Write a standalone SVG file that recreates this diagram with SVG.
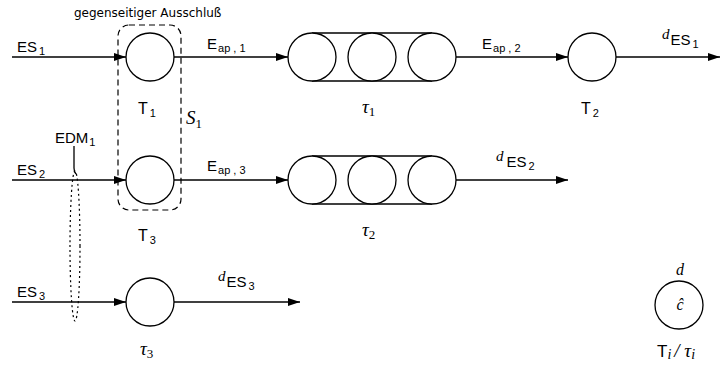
<svg xmlns="http://www.w3.org/2000/svg" width="722" height="370" viewBox="0 0 722 370">
<defs>
<marker id="ah" markerWidth="12" markerHeight="8" refX="12" refY="4" orient="auto" markerUnits="userSpaceOnUse">
<path d="M0,0 L12,4 L0,8 Z" fill="#000"/>
</marker>
<style>
.c{fill:#fff;stroke:#000;stroke-width:1.3}
.e{stroke:#000;stroke-width:1.3;fill:none}
.a{stroke:#000;stroke-width:1.3;fill:none;marker-end:url(#ah)}
.t{font-family:"Liberation Sans",Arial,sans-serif;font-size:15px;fill:#000}
.s{font-size:11px}
.m{font-family:"Liberation Serif","Times New Roman",serif;font-style:italic;fill:#000}
</style>
</defs>
<rect width="722" height="370" fill="#fff"/>
<g id="connectors">
<line class="a" x1="12" y1="57" x2="126" y2="57"/>
<line class="a" x1="174" y1="57" x2="288" y2="57"/>
<line class="a" x1="456" y1="57" x2="568" y2="57"/>
<line class="a" x1="616" y1="57" x2="720" y2="57"/>
<line class="a" x1="12" y1="180" x2="126" y2="180"/>
<line class="a" x1="174" y1="180" x2="288" y2="180"/>
<line class="a" x1="456" y1="180" x2="568" y2="180"/>
<line class="a" x1="12" y1="302" x2="126" y2="302"/>
<line class="a" x1="174" y1="302" x2="300" y2="302"/>
<path class="e" d="M74,146 L74,168 Q74,172 76,174" stroke-width="1"/>
</g>
<g id="S1">
<rect x="118" y="25" width="63" height="185" rx="11" ry="11" fill="none" stroke="#000" stroke-width="1.2" stroke-dasharray="6,4"/>
<text x="74" y="17" style="font-family:'DejaVu Sans',sans-serif;font-size:12px;fill:#000">gegenseitiger Ausschluß</text>
<text class="m" x="186" y="124" font-size="19">S<tspan font-size="13" font-style="normal" dy="4">1</tspan></text>
</g>
<g id="EDM1">
<ellipse cx="75" cy="246" rx="5" ry="75" fill="none" stroke="#000" stroke-width="1.2" stroke-dasharray="2,3"/>
<text class="t" x="55" y="143">EDM<tspan class="s" dx="1" dy="3">1</tspan></text>
</g>
<g id="T1">
<circle class="c" cx="150" cy="57" r="24"/>
<text class="t" x="138" y="114" style="font-size:16px">T<tspan class="s" dx="2" dy="3">1</tspan></text>
</g>
<g id="T3">
<circle class="c" cx="150" cy="180" r="24"/>
<text class="t" x="138" y="241" style="font-size:16px">T<tspan class="s" dx="2" dy="3">3</tspan></text>
</g>
<g id="tau3">
<circle class="c" cx="150" cy="302" r="24"/>
<text class="m" x="140" y="355" font-size="19">τ<tspan font-size="13" font-style="normal" dy="3">3</tspan></text>
</g>
<g id="tau1">
<line class="e" x1="312" y1="33" x2="432" y2="33"/>
<line class="e" x1="312" y1="81" x2="432" y2="81"/>
<circle class="c" cx="312" cy="57" r="24"/>
<circle class="c" cx="372" cy="57" r="24"/>
<circle class="c" cx="432" cy="57" r="24"/>
<text class="m" x="362" y="113" font-size="19">τ<tspan font-size="13" font-style="normal" dy="3">1</tspan></text>
</g>
<g id="tau2">
<line class="e" x1="312" y1="156" x2="432" y2="156"/>
<line class="e" x1="312" y1="204" x2="432" y2="204"/>
<circle class="c" cx="312" cy="180" r="24"/>
<circle class="c" cx="372" cy="180" r="24"/>
<circle class="c" cx="432" cy="180" r="24"/>
<text class="m" x="362" y="236" font-size="19">τ<tspan font-size="13" font-style="normal" dy="3">2</tspan></text>
</g>
<g id="T2">
<circle class="c" cx="592" cy="57" r="24"/>
<text class="t" x="581" y="114" style="font-size:16px">T<tspan class="s" dx="2" dy="3">2</tspan></text>
</g>
<g id="legend">
<circle class="c" cx="679" cy="305" r="24"/>
<text class="m" x="680" y="275" font-size="16" text-anchor="middle">d</text>
<text class="m" x="680" y="310" font-size="16" text-anchor="middle">ĉ</text>
<text class="t" x="657" y="357" style="font-size:17px">T<tspan class="m" font-size="14" dy="2">i</tspan><tspan class="m" font-size="19" dx="3" dy="-2">/ τ</tspan><tspan class="m" font-size="14" dy="2">i</tspan></text>
</g>
<g id="labels">
<text class="t" x="17" y="52">ES<tspan class="s" dx="2" dy="3">1</tspan></text>
<text class="t" x="17" y="175">ES<tspan class="s" dx="2" dy="3">2</tspan></text>
<text class="t" x="17" y="297">ES<tspan class="s" dx="2" dy="3">3</tspan></text>
<text class="t" x="207" y="49">E<tspan class="s" dx="1" dy="3">ap , 1</tspan></text>
<text class="t" x="482" y="49">E<tspan class="s" dx="1" dy="3">ap , 2</tspan></text>
<text class="t" x="207" y="171">E<tspan class="s" dx="1" dy="3">ap , 3</tspan></text>
<text class="t" x="662" y="45"><tspan class="m" font-size="15" dy="-6">d</tspan><tspan dx="1" dy="6">ES</tspan><tspan class="s" dx="2" dy="3">1</tspan></text>
<text class="t" x="496" y="167"><tspan class="m" font-size="15" dy="-6">d</tspan><tspan dx="3" dy="6">ES</tspan><tspan class="s" dx="2" dy="3">2</tspan></text>
<text class="t" x="218" y="287"><tspan class="m" font-size="15" dy="-6">d</tspan><tspan dx="1" dy="6">ES</tspan><tspan class="s" dx="2" dy="3">3</tspan></text>
</g>
</svg>
